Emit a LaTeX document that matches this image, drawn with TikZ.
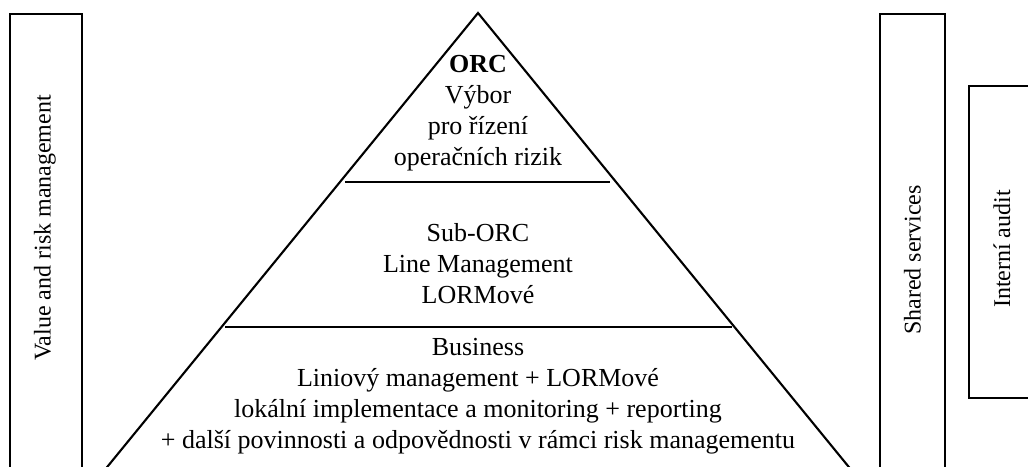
\documentclass[tikz,border=0pt]{standalone}
\usepackage{fontspec}
\setmainfont{Liberation Serif}
\begin{document}
\begin{tikzpicture}[x=1pt,y=-1pt,
  frame/.style={draw=black,line width=2.1pt},
  label/.style={inner sep=0pt,font=\fontsize{26}{31}\selectfont},
  tier/.style={label,align=center,anchor=north},
  side/.style={inner sep=0pt,font=\fontsize{24}{29}\selectfont,rotate=90}]
\useasboundingbox (0,0) rectangle (1028,466);
\clip (0,0) rectangle (1028,466);

% side columns (they run on below the lower edge)
\draw[frame] (10,520) rectangle (82,14);
\draw[frame] (880,520) rectangle (945,14);
\draw[frame] (969,398) rectangle (1045,86);
\node[side] (vrm) at (45,228) {Value and risk management};
\node[side] (shared) at (912.5,260) {Shared services};
\node[side] (audit) at (1002,249) {Interní audit};

% pyramid
\coordinate (apex) at (478,13);
\coordinate (baseL) at (80.2,500);
\coordinate (baseR) at (875.8,500);
\draw[frame,line join=miter] (baseL) -- (apex) -- (baseR);
\coordinate (d1l) at (345,182);
\coordinate (d1r) at (610,182);
\coordinate (d2l) at (225,327);
\coordinate (d2r) at (732,327);
\draw[frame] (d1l) -- (d1r);
\draw[frame] (d2l) -- (d2r);

\node[tier] (orc) at (478,55) {\textbf{ORC}\\Výbor\\pro řízení\\operačních rizik};
\node[tier] (sub) at (478,223) {Sub-ORC\\Line Management\\LORMové};
\node[tier] (bus) at (478,338) {Business\\Liniový management + LORMové\\lokální implementace a monitoring + reporting\\+ další povinnosti a odpovědnosti v rámci risk managementu};
\end{tikzpicture}
\end{document}
